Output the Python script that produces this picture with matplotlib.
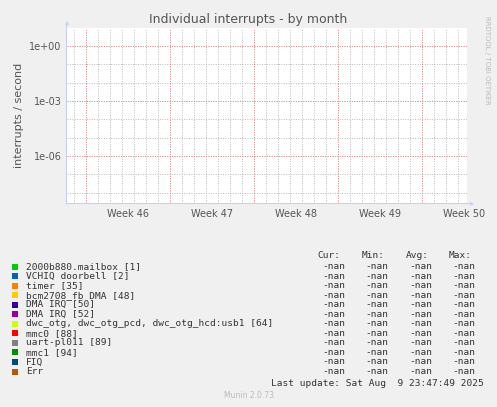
import matplotlib
matplotlib.use("Agg")
import matplotlib.pyplot as plt
import numpy as np

names = ["2000b880.mailbox [1]", "VCHIQ doorbell [2]", "timer [35]", "bcm2708_fb DMA [48]",
         "DMA IRQ [50]", "DMA IRQ [52]", "dwc_otg, dwc_otg_pcd, dwc_otg_hcd:usb1 [64]",
         "mmc0 [88]", "uart-pl011 [89]", "mmc1 [94]", "FIQ", "Err"]
colors = ["#00CC00", "#0066B3", "#FF8000", "#FFCC00", "#330099", "#990099", "#CCFF00",
          "#FF0000", "#808080", "#008F00", "#00487D", "#B35A00"]
cur = ["-nan"] * 12
mn = ["-nan"] * 12
avg = ["-nan"] * 12
mx = ["-nan"] * 12
week_labels = ["Week 46", "Week 47", "Week 48", "Week 49", "Week 50"]
week_starts = [1.58, 8.58, 15.58, 22.58, 29.58]

W, H = 497, 407
fig = plt.figure(figsize=(W/100, H/100), dpi=100, facecolor="#F0F0F0")
ax = fig.add_axes([67/W, 1-203/H, 400/W, 175/H])
ax.set_facecolor("white")
ax.set_yscale("log")
ax.set_xlim(0, 33.33)
ax.set_ylim(10**-8.56, 10**0.98)
for s in ax.spines.values():
    s.set_visible(False)
tc = "#555555"
for d in np.arange(0.58, 33.3, 1.0):
    ax.axvline(d, color="#BBBBBB", lw=0.7, ls=(0, (1, 1.5)), zorder=0)
for d in week_starts:
    ax.axvline(d, color="#E09090", lw=0.7, ls=(0, (1, 1.5)), zorder=1)
for e in range(-8, 1):
    ax.axhline(10.0**e, color="#BBBBBB", lw=0.7, ls=(0, (1, 1.5)), zorder=0)
for e in [0, -3, -6]:
    ax.axhline(10.0**e, color="#E09090", lw=0.7, ls=(0, (1, 1.5)), zorder=1)
ax.set_yticks([1, 1e-3, 1e-6])
ax.set_yticklabels(["1e+00", "1e-03", "1e-06"])
ax.yaxis.set_minor_locator(matplotlib.ticker.NullLocator())
ax.set_xticks([d + 3.5 for d in week_starts])
ax.set_xticklabels(week_labels)
ax.tick_params(length=0, labelsize=7, colors=tc, pad=4)
ax.set_ylabel("interrupts / second", fontsize=8, color=tc)
fig.add_artist(matplotlib.lines.Line2D([66/W, 470/W], [1-203/H]*2, color="#C8D0F0", lw=0.8))
fig.add_artist(matplotlib.lines.Line2D([66/W]*2, [1-203/H, 1-24/H], color="#C8D0F0", lw=0.8))
fig.text(470/W, 1-203/H, "▸", color="#C8D0F0", fontsize=6, va="center", ha="left")
fig.text(67/W, 1-22/H, "▴", color="#C8D0F0", fontsize=6, va="center", ha="center")

fig.text(0.5, 1-19/H, "Individual interrupts - by month", ha="center", va="center", fontsize=9, color=tc)
fig.text(487/W, 1-60/H, "RRDTOOL / TOBI OETIKER", rotation=270, ha="center", va="center",
         fontsize=5, color="#BBBBBB")

fs = 6.8
mono = "DejaVu Sans Mono"
y0 = 255
for xx, t in zip([340, 385, 429, 472], ["Cur:", "Min:", "Avg:", "Max:"]):
    fig.text(xx/W, 1-y0/H, t, ha="right", va="center", fontsize=fs, family=mono, color="#333")
for i, n in enumerate(names):
    y = 1 - (266.5 + i*9.55)/H
    fig.patches.append(matplotlib.patches.Rectangle((12/W, y-3/H), 6/W, 6/H, transform=fig.transFigure,
                                                    facecolor=colors[i], edgecolor="none"))
    fig.text(26/W, y, n, va="center", fontsize=fs, family=mono, color="#333")
    for xx, v in zip([345, 388, 432, 475], [cur[i], mn[i], avg[i], mx[i]]):
        fig.text(xx/W, y, v, ha="right", va="center", fontsize=fs, family=mono, color="#333")
fig.text(484/W, 1-383/H, "Last update: Sat Aug  9 23:47:49 2025", ha="right", va="center",
         fontsize=fs, family=mono, color="#333")
fig.text(0.5, 1-396/H, "Munin 2.0.73", ha="center", va="center", fontsize=5.5, color="#BBBBBB")
fig.savefig("out.png", dpi=100, facecolor=fig.get_facecolor())
